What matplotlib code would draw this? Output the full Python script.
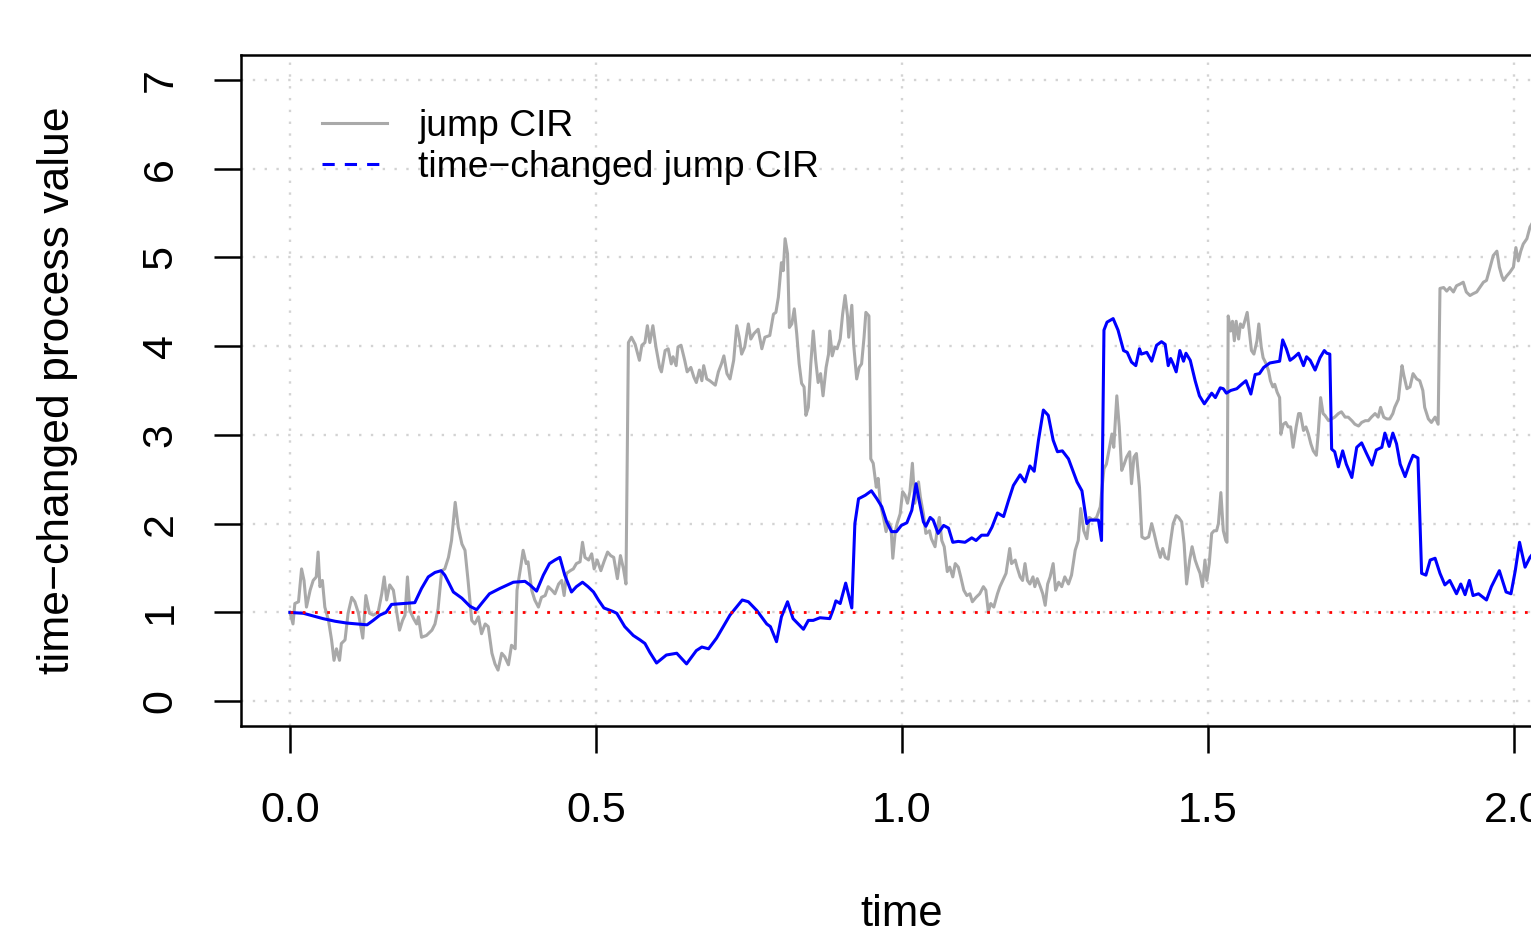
import matplotlib
matplotlib.use("Agg")
import matplotlib.pyplot as plt
from matplotlib.lines import Line2D

plt.rcParams['font.family'] = ['Liberation Sans', 'DejaVu Sans']

# (time, value) pairs
jump_cir = [
    (0.000, 1.00), (0.005, 0.87), (0.008, 1.10), (0.014, 1.12), (0.019, 1.49), (0.023, 1.36),
    (0.027, 1.06), (0.033, 1.25), (0.038, 1.36), (0.043, 1.40), (0.046, 1.68), (0.049, 1.29),
    (0.053, 1.36), (0.057, 1.06), (0.063, 0.91), (0.068, 0.69), (0.072, 0.46), (0.076, 0.59),
    (0.081, 0.46), (0.084, 0.65), (0.090, 0.69), (0.095, 0.99), (0.101, 1.17), (0.106, 1.12),
    (0.112, 0.99), (0.119, 0.71), (0.124, 1.19), (0.130, 0.99), (0.136, 0.97), (0.144, 1.00),
    (0.150, 1.21), (0.154, 1.40), (0.158, 1.14), (0.163, 1.31), (0.169, 1.25), (0.174, 1.02),
    (0.179, 0.80), (0.184, 0.91), (0.188, 0.97), (0.192, 1.40), (0.196, 1.02), (0.202, 0.93),
    (0.207, 0.87), (0.210, 0.95), (0.215, 0.72), (0.223, 0.74), (0.232, 0.80), (0.237, 0.87),
    (0.242, 1.04), (0.248, 1.47), (0.253, 1.49), (0.259, 1.62), (0.264, 1.81), (0.270, 2.24),
    (0.275, 1.96), (0.281, 1.77), (0.286, 1.70), (0.291, 1.36), (0.297, 0.91), (0.302, 0.87),
    (0.308, 0.95), (0.313, 0.76), (0.319, 0.87), (0.324, 0.84), (0.330, 0.54), (0.335, 0.42),
    (0.340, 0.35), (0.346, 0.54), (0.351, 0.50), (0.357, 0.41), (0.362, 0.63), (0.368, 0.59),
    (0.371, 1.25), (0.377, 1.51), (0.381, 1.70), (0.386, 1.55), (0.389, 1.57), (0.395, 1.25),
    (0.400, 1.14), (0.406, 1.06), (0.411, 1.17), (0.417, 1.19), (0.422, 1.29), (0.428, 1.25),
    (0.433, 1.21), (0.439, 1.32), (0.444, 1.36), (0.448, 1.19), (0.452, 1.44), (0.458, 1.47),
    (0.463, 1.49), (0.468, 1.55), (0.474, 1.57), (0.478, 1.79), (0.482, 1.62), (0.488, 1.59),
    (0.493, 1.66), (0.497, 1.49), (0.502, 1.59), (0.508, 1.47), (0.513, 1.57), (0.519, 1.68),
    (0.524, 1.64), (0.529, 1.62), (0.535, 1.38), (0.540, 1.64), (0.545, 1.49), (0.549, 1.32),
    (0.553, 4.04), (0.558, 4.10), (0.564, 4.02), (0.571, 3.84), (0.575, 4.01), (0.580, 4.04),
    (0.584, 4.23), (0.588, 4.04), (0.593, 4.23), (0.598, 3.99), (0.604, 3.76), (0.607, 3.71),
    (0.613, 3.95), (0.618, 3.97), (0.623, 3.80), (0.626, 3.88), (0.631, 3.78), (0.634, 3.99),
    (0.639, 4.01), (0.645, 3.84), (0.649, 3.71), (0.655, 3.76), (0.660, 3.65), (0.664, 3.59),
    (0.669, 3.73), (0.673, 3.61), (0.676, 3.78), (0.681, 3.63), (0.686, 3.61), (0.695, 3.56),
    (0.700, 3.71), (0.705, 3.80), (0.709, 3.89), (0.714, 3.69), (0.719, 3.63), (0.725, 3.84),
    (0.730, 4.23), (0.734, 4.10), (0.738, 3.91), (0.743, 3.99), (0.749, 4.25), (0.753, 4.08),
    (0.758, 4.14), (0.765, 4.19), (0.771, 3.97), (0.776, 4.10), (0.784, 4.12), (0.790, 4.36),
    (0.794, 4.38), (0.798, 4.55), (0.803, 4.94), (0.806, 4.85), (0.809, 5.21), (0.813, 5.04),
    (0.816, 4.21), (0.820, 4.25), (0.824, 4.42), (0.828, 4.14), (0.832, 3.80), (0.836, 3.58),
    (0.840, 3.54), (0.843, 3.22), (0.847, 3.31), (0.851, 3.80), (0.855, 4.17), (0.859, 3.84),
    (0.863, 3.59), (0.867, 3.69), (0.871, 3.44), (0.876, 3.76), (0.880, 3.91), (0.882, 4.17),
    (0.886, 3.89), (0.890, 3.99), (0.894, 3.97), (0.899, 4.08), (0.903, 4.36), (0.907, 4.57),
    (0.911, 4.34), (0.913, 4.10), (0.918, 4.46), (0.921, 4.02), (0.926, 3.63), (0.930, 3.76),
    (0.934, 3.80), (0.938, 4.10), (0.941, 4.38), (0.946, 4.34), (0.949, 2.73), (0.953, 2.68),
    (0.958, 2.41), (0.961, 2.51), (0.965, 2.21), (0.970, 2.06), (0.974, 1.91), (0.978, 2.02),
    (0.982, 1.96), (0.985, 1.61), (0.989, 1.91), (0.992, 2.00), (0.997, 2.11), (1.001, 2.36),
    (1.005, 2.32), (1.009, 2.23), (1.013, 2.36), (1.017, 2.68), (1.021, 2.23), (1.025, 2.38),
    (1.027, 2.47), (1.030, 2.30), (1.035, 2.11), (1.039, 1.89), (1.045, 1.92), (1.048, 1.83),
    (1.054, 1.74), (1.058, 1.96), (1.061, 2.07), (1.065, 1.81), (1.069, 1.74), (1.074, 1.46),
    (1.078, 1.51), (1.083, 1.40), (1.087, 1.55), (1.092, 1.51), (1.096, 1.40), (1.101, 1.25),
    (1.106, 1.19), (1.111, 1.21), (1.115, 1.12), (1.121, 1.17), (1.127, 1.21), (1.133, 1.29),
    (1.137, 1.25), (1.141, 1.01), (1.145, 1.10), (1.150, 1.06), (1.156, 1.21), (1.160, 1.29),
    (1.166, 1.38), (1.170, 1.44), (1.176, 1.72), (1.179, 1.55), (1.185, 1.59), (1.188, 1.51),
    (1.193, 1.40), (1.197, 1.36), (1.201, 1.55), (1.205, 1.36), (1.209, 1.32), (1.214, 1.40),
    (1.217, 1.29), (1.221, 1.38), (1.226, 1.29), (1.230, 1.21), (1.234, 1.08), (1.238, 1.32),
    (1.242, 1.40), (1.247, 1.55), (1.251, 1.25), (1.256, 1.34), (1.261, 1.29), (1.266, 1.40),
    (1.272, 1.32), (1.277, 1.42), (1.283, 1.70), (1.288, 1.81), (1.292, 2.17), (1.297, 1.92),
    (1.302, 1.83), (1.306, 2.07), (1.312, 2.04), (1.318, 2.07), (1.324, 2.19), (1.326, 2.34),
    (1.330, 2.62), (1.334, 2.67), (1.339, 2.86), (1.343, 3.01), (1.346, 2.86), (1.351, 3.44),
    (1.355, 3.09), (1.359, 2.60), (1.363, 2.67), (1.367, 2.75), (1.372, 2.81), (1.375, 2.45),
    (1.379, 2.75), (1.383, 2.79), (1.388, 2.41), (1.392, 1.85), (1.397, 1.83), (1.403, 1.85),
    (1.408, 2.00), (1.412, 1.89), (1.417, 1.74), (1.422, 1.62), (1.426, 1.72), (1.430, 1.62),
    (1.435, 1.60), (1.439, 1.81), (1.443, 2.00), (1.448, 2.09), (1.452, 2.07), (1.457, 2.02),
    (1.461, 1.77), (1.465, 1.32), (1.470, 1.59), (1.474, 1.74), (1.479, 1.59), (1.483, 1.51),
    (1.487, 1.44), (1.491, 1.29), (1.495, 1.59), (1.498, 1.36), (1.502, 1.55), (1.506, 1.89),
    (1.510, 1.92), (1.514, 1.92), (1.517, 2.00), (1.521, 2.35), (1.525, 1.92), (1.529, 1.81),
    (1.531, 1.79), (1.533, 4.34), (1.537, 4.17), (1.540, 4.28), (1.543, 4.06), (1.546, 4.28),
    (1.550, 4.08), (1.553, 4.25), (1.557, 4.21), (1.560, 4.28), (1.564, 4.38), (1.568, 4.14),
    (1.571, 3.95), (1.575, 3.91), (1.580, 4.06), (1.583, 4.25), (1.587, 3.99), (1.590, 3.87),
    (1.595, 3.80), (1.599, 3.72), (1.602, 3.61), (1.606, 3.54), (1.609, 3.57), (1.613, 3.48),
    (1.617, 3.42), (1.619, 3.01), (1.623, 3.12), (1.627, 3.14), (1.631, 3.09), (1.635, 3.09),
    (1.639, 2.86), (1.644, 3.09), (1.648, 3.24), (1.651, 3.24), (1.656, 3.05), (1.660, 3.09),
    (1.664, 3.01), (1.668, 2.90), (1.672, 2.82), (1.677, 2.77), (1.680, 3.01), (1.684, 3.42),
    (1.688, 3.24), (1.691, 3.22), (1.697, 3.16), (1.702, 3.18), (1.707, 3.20), (1.713, 3.24),
    (1.718, 3.26), (1.724, 3.20), (1.729, 3.20), (1.735, 3.16), (1.740, 3.12), (1.746, 3.10),
    (1.751, 3.14), (1.757, 3.16), (1.762, 3.16), (1.767, 3.20), (1.773, 3.24), (1.778, 3.20),
    (1.782, 3.31), (1.787, 3.20), (1.792, 3.18), (1.797, 3.18), (1.802, 3.24), (1.805, 3.31),
    (1.811, 3.40), (1.817, 3.78), (1.820, 3.67), (1.825, 3.52), (1.830, 3.54), (1.835, 3.69),
    (1.841, 3.63), (1.846, 3.61), (1.851, 3.50), (1.854, 3.31), (1.860, 3.18), (1.865, 3.14),
    (1.871, 3.20), (1.876, 3.12), (1.879, 4.65), (1.885, 4.66), (1.890, 4.62), (1.895, 4.66),
    (1.901, 4.61), (1.906, 4.68), (1.912, 4.70), (1.917, 4.72), (1.922, 4.61), (1.928, 4.57),
    (1.933, 4.59), (1.939, 4.61), (1.944, 4.66), (1.950, 4.72), (1.955, 4.74), (1.961, 4.89),
    (1.966, 5.02), (1.972, 5.07), (1.976, 4.89), (1.980, 4.79), (1.983, 4.74), (1.988, 4.79),
    (1.993, 4.83), (1.999, 4.89), (2.003, 5.11), (2.007, 4.96), (2.011, 5.07), (2.015, 5.15),
    (2.021, 5.21), (2.026, 5.34), (2.035, 5.45),
]

time_changed = [
    (0.000, 1.00), (0.022, 0.99), (0.038, 0.96), (0.054, 0.93), (0.074, 0.90), (0.093, 0.88),
    (0.109, 0.87), (0.126, 0.86), (0.136, 0.91), (0.147, 0.97), (0.157, 1.00), (0.166, 1.09),
    (0.185, 1.10), (0.204, 1.11), (0.215, 1.27), (0.226, 1.40), (0.237, 1.45), (0.247, 1.47),
    (0.253, 1.42), (0.259, 1.34), (0.267, 1.23), (0.281, 1.16), (0.294, 1.07), (0.305, 1.03),
    (0.313, 1.10), (0.326, 1.21), (0.343, 1.27), (0.365, 1.34), (0.384, 1.35), (0.392, 1.31),
    (0.403, 1.24), (0.414, 1.42), (0.424, 1.55), (0.433, 1.59), (0.441, 1.62), (0.449, 1.42),
    (0.460, 1.23), (0.468, 1.29), (0.478, 1.34), (0.487, 1.29), (0.496, 1.23), (0.504, 1.14),
    (0.513, 1.05), (0.528, 1.01), (0.534, 0.99), (0.547, 0.84), (0.561, 0.74), (0.572, 0.69),
    (0.580, 0.65), (0.588, 0.55), (0.599, 0.43), (0.615, 0.52), (0.632, 0.54), (0.648, 0.42),
    (0.664, 0.57), (0.673, 0.61), (0.684, 0.59), (0.697, 0.71), (0.719, 0.97), (0.739, 1.14),
    (0.749, 1.12), (0.763, 1.02), (0.779, 0.87), (0.785, 0.84), (0.795, 0.67), (0.803, 0.95),
    (0.813, 1.12), (0.822, 0.93), (0.839, 0.81), (0.847, 0.91), (0.855, 0.91), (0.866, 0.94),
    (0.882, 0.93), (0.888, 1.04), (0.892, 1.13), (0.899, 1.10), (0.908, 1.33), (0.918, 1.05),
    (0.923, 2.00), (0.929, 2.28), (0.940, 2.32), (0.950, 2.37), (0.959, 2.28), (0.967, 2.19),
    (0.975, 2.02), (0.983, 1.91), (0.991, 1.91), (0.999, 1.98), (1.008, 2.01), (1.016, 2.15),
    (1.023, 2.45), (1.028, 2.26), (1.035, 2.02), (1.039, 1.97), (1.046, 2.07), (1.051, 2.04),
    (1.059, 1.89), (1.068, 1.98), (1.076, 1.95), (1.083, 1.79), (1.092, 1.80), (1.103, 1.79),
    (1.114, 1.84), (1.121, 1.81), (1.130, 1.87), (1.140, 1.87), (1.147, 1.96), (1.156, 2.12),
    (1.166, 2.08), (1.174, 2.26), (1.182, 2.43), (1.193, 2.55), (1.201, 2.47), (1.209, 2.65),
    (1.216, 2.59), (1.223, 2.94), (1.231, 3.28), (1.239, 3.22), (1.247, 2.94), (1.254, 2.81),
    (1.262, 2.82), (1.272, 2.73), (1.280, 2.58), (1.286, 2.47), (1.294, 2.37), (1.302, 2.00),
    (1.307, 2.04), (1.313, 2.04), (1.321, 2.04), (1.326, 1.81), (1.330, 4.18), (1.335, 4.27),
    (1.345, 4.31), (1.353, 4.18), (1.362, 3.95), (1.368, 3.93), (1.375, 3.82), (1.382, 3.78),
    (1.388, 3.97), (1.391, 3.91), (1.400, 3.93), (1.408, 3.83), (1.416, 4.01), (1.424, 4.05),
    (1.430, 4.02), (1.435, 3.78), (1.439, 3.86), (1.443, 3.80), (1.448, 3.71), (1.454, 3.95),
    (1.460, 3.83), (1.464, 3.92), (1.471, 3.84), (1.479, 3.61), (1.486, 3.44), (1.494, 3.35),
    (1.501, 3.42), (1.506, 3.47), (1.512, 3.42), (1.520, 3.53), (1.525, 3.52), (1.530, 3.47),
    (1.537, 3.50), (1.547, 3.52), (1.555, 3.57), (1.562, 3.61), (1.570, 3.46), (1.577, 3.68),
    (1.584, 3.69), (1.591, 3.76), (1.601, 3.81), (1.609, 3.82), (1.617, 3.83), (1.622, 4.07),
    (1.628, 3.97), (1.634, 3.84), (1.640, 3.87), (1.648, 3.92), (1.656, 3.78), (1.661, 3.88),
    (1.667, 3.84), (1.675, 3.73), (1.683, 3.87), (1.690, 3.95), (1.694, 3.92), (1.699, 3.91),
    (1.702, 2.84), (1.707, 2.81), (1.713, 2.64), (1.720, 2.82), (1.726, 2.67), (1.735, 2.52),
    (1.743, 2.86), (1.751, 2.91), (1.759, 2.79), (1.768, 2.66), (1.775, 2.83), (1.784, 2.86),
    (1.789, 3.02), (1.796, 2.87), (1.802, 3.02), (1.808, 2.90), (1.814, 2.67), (1.822, 2.53),
    (1.829, 2.67), (1.835, 2.77), (1.843, 2.74), (1.849, 1.44), (1.856, 1.42), (1.863, 1.59),
    (1.871, 1.61), (1.879, 1.44), (1.887, 1.31), (1.895, 1.36), (1.906, 1.21), (1.913, 1.32),
    (1.920, 1.20), (1.927, 1.36), (1.933, 1.19), (1.942, 1.21), (1.955, 1.14), (1.963, 1.29),
    (1.976, 1.47), (1.987, 1.23), (1.995, 1.21), (2.002, 1.47), (2.009, 1.79), (2.018, 1.51),
    (2.026, 1.62), (2.035, 1.70),
]

long_run_level = 1.0
x_ticks = [0.0, 0.5, 1.0, 1.5, 2.0]
x_tick_labels = ["0.0", "0.5", "1.0", "1.5", "2.0"]
y_ticks = [0, 1, 2, 3, 4, 5, 6, 7]
series_names = ["jump CIR", "time\u2212changed jump CIR"]

jump_t = [p[0] for p in jump_cir]
jump_v = [p[1] for p in jump_cir]
tc_t = [p[0] for p in time_changed]
tc_v = [p[1] for p in time_changed]

fig = plt.figure(figsize=(15.31, 9.27), dpi=100)
# the plot box runs past the right edge of the picture, as in the reference
ax = fig.add_axes([0.1574, 0.2168, 0.8635, 0.7239])

ax.grid(True, color='lightgray', linestyle=(0, (1, 4)), linewidth=1.7)
ax.set_axisbelow(True)

ax.plot(jump_t, jump_v, color='darkgray', lw=2.2, zorder=2)
ax.plot(tc_t, tc_v, color='blue', lw=2.2, zorder=3)
ax.hlines(long_run_level, jump_t[0], jump_t[-1], colors='red',
          linestyles=(0, (1, 3.4)), lw=2.0, zorder=4)

ax.set_xlim(-0.08, 2.08)
ax.set_ylim(-0.28, 7.28)
ax.set_xticks(x_ticks)
ax.set_xticklabels(x_tick_labels)
ax.set_yticks(y_ticks)
ax.set_yticklabels([str(v) for v in y_ticks])

for s in ax.spines.values():
    s.set_linewidth(1.8)
ax.tick_params(axis='both', length=19.5, width=1.8, labelsize=31)
ax.tick_params(axis='x', pad=27)
ax.tick_params(axis='y', pad=24, labelrotation=90)
for lab in ax.get_yticklabels():
    lab.set_va('center')

ax.set_xlabel('time', fontsize=31.5)
ax.xaxis.set_label_coords(0.5, -0.25)
ax.xaxis.label.set_va('top')
ax.set_ylabel('time\u2212changed process value', fontsize=32)
ax.yaxis.set_label_coords(-0.139, 0.5)
ax.yaxis.label.set_va('center')

handles = [
    Line2D([], [], color='darkgray', lw=2.2),
    Line2D([], [], color='blue', lw=2.2, linestyle=(0, (4, 3.3))),
]
ax.legend(handles, series_names, loc='upper left', bbox_to_anchor=(0.061, 0.92),
          frameon=False, fontsize=26.8, handlelength=1.75, handletextpad=0.85,
          labelspacing=0.16, borderpad=0, borderaxespad=0)

fig.savefig('out.png', dpi=100)
